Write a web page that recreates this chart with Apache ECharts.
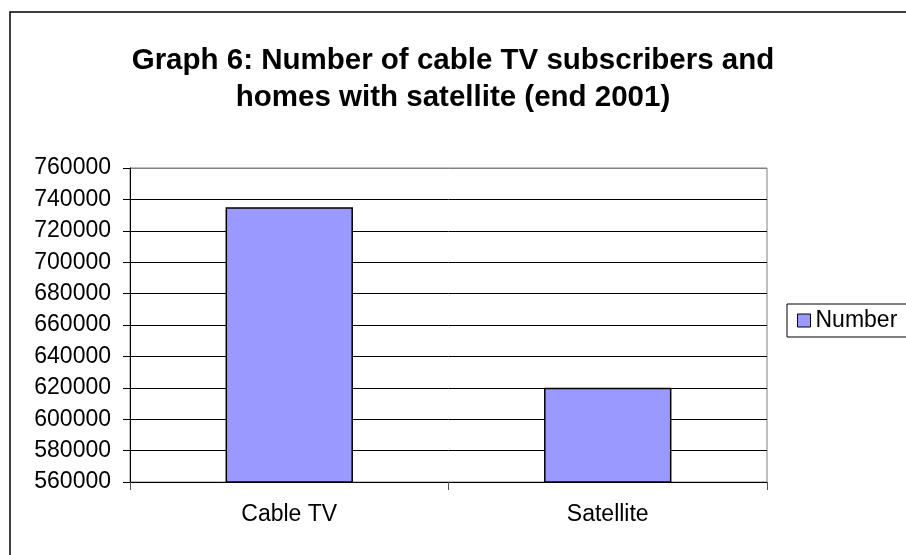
<!DOCTYPE html>
<html>
<head>
<meta charset="utf-8">
<script src="https://cdn.jsdelivr.net/npm/echarts@6/dist/echarts.min.js"></script>
<style>
  html, body { margin: 0; padding: 0; background: #ffffff; }
  #chart { width: 906px; height: 555px; }
</style>
</head>
<body>
<div id="chart"></div>
<script>
// Chart data
const titleLines = ['Graph 6: Number of cable TV subscribers and', 'homes with satellite (end 2001)'];
const categories = ['Cable TV', 'Satellite'];
const seriesName = 'Number';
const values = [735000, 620000];
const yMin = 560000;
const yMax = 760000;
const yStep = 20000;

const FONT = 'Liberation Sans, Arial, sans-serif';

// gridlines black, the top one blends into the grey plot border
const gridColors = [];
for (let v = yMin; v <= yMax; v += yStep) gridColors.push(v === yMax ? '#808080' : '#000000');

const chart = echarts.init(document.getElementById('chart'), null, { renderer: 'canvas' });
chart.setOption({
  backgroundColor: '#ffffff',
  animation: false,
  title: {
    text: titleLines.join('\n'),
    left: 'center',
    top: 37,
    textStyle: { fontFamily: FONT, fontSize: 29.5, fontWeight: 'bold', color: '#000', lineHeight: 37 }
  },
  graphic: [{
    type: 'rect',
    shape: { x: 10, y: 12, width: 920, height: 560 },
    style: { fill: 'none', stroke: '#000', lineWidth: 1.5 },
    silent: true,
    z: 100
  }],
  legend: {
    data: [seriesName],
    left: 787,
    top: 304,
    orient: 'vertical',
    padding: [5, 10, 5, 10],
    borderColor: '#000',
    borderWidth: 1,
    itemWidth: 13,
    itemHeight: 13,
    itemGap: 0,
    icon: 'rect',
    itemStyle: { borderColor: '#000', borderWidth: 1 },
    textStyle: { fontFamily: FONT, fontSize: 23, color: '#000', lineHeight: 23, padding: [0, 0, 0, 0] }
  },
  grid: {
    left: 130, right: 139, top: 168, bottom: 73,
    show: true,
    borderColor: '#808080',
    borderWidth: 1,
    containLabel: false
  },
  xAxis: {
    type: 'category',
    data: categories,
    axisLine: { show: true, lineStyle: { color: '#000', width: 1 } },
    axisTick: { show: true, alignWithLabel: false, length: 8, lineStyle: { color: '#555' } },
    axisLabel: { fontFamily: FONT, fontSize: 23, color: '#000', margin: 21, lineHeight: 23 },
    splitLine: { show: false }
  },
  yAxis: {
    type: 'value',
    min: yMin,
    max: yMax,
    interval: yStep,
    axisLine: { show: true, lineStyle: { color: '#000', width: 1 } },
    axisTick: { show: true, length: 7, lineStyle: { color: '#000' } },
    axisLabel: {
      fontFamily: FONT, fontSize: 23, color: '#000', margin: 19,
      formatter: (v) => String(v)
    },
    splitLine: { show: true, lineStyle: { color: gridColors, width: 1 } }
  },
  series: [{
    name: seriesName,
    type: 'bar',
    data: values,
    barWidth: '40%',
    itemStyle: { color: '#9999FF', borderColor: '#000', borderWidth: 1.5 }
  }]
});
</script>
</body>
</html>
